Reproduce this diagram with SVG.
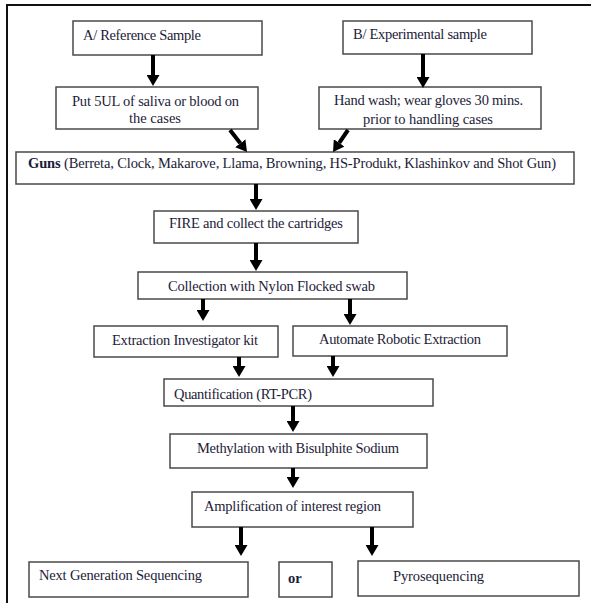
<svg xmlns="http://www.w3.org/2000/svg" width="591" height="603" viewBox="0 0 591 603">
<defs>
<style>
.box{fill:#fff;stroke:#4a4a4a;stroke-width:1.5}
.t{font-family:"Liberation Serif","Times New Roman",serif;font-size:14.5px;fill:#1c1c38}
.b{font-weight:bold}
.ar{stroke:#000;stroke-width:4;fill:none;marker-end:url(#ah)}
</style>
<marker id="ah" markerUnits="userSpaceOnUse" markerWidth="11" markerHeight="13" refX="0" refY="6.5" orient="auto" viewBox="0 0 11 13">
<path d="M0,0 L11,6.5 L0,13 z" fill="#000"/>
</marker>
</defs>
<rect width="591" height="603" fill="#fff"/>
<g id="frame">
<path d="M7,603 L7,5 L591,5" fill="none" stroke="#111" stroke-width="2"/>
</g>
<g id="n-a"><rect class="box" x="73" y="21" width="189" height="34"/><text class="t" x="83" y="40" textLength="118" lengthAdjust="spacing">A/ Reference Sample</text></g>
<g id="n-b"><rect class="box" x="343" y="21" width="189" height="33"/><text class="t" x="353" y="39" textLength="134" lengthAdjust="spacing">B/ Experimental sample</text></g>
<g id="n-put"><rect class="box" x="56" y="87" width="202" height="42"/><text class="t" x="72" y="106" textLength="167" lengthAdjust="spacing">Put 5UL of saliva or blood on</text><text class="t" x="129" y="123" textLength="52" lengthAdjust="spacing">the cases</text></g>
<g id="n-hand"><rect class="box" x="319" y="87" width="222" height="42"/><text class="t" x="334" y="105" textLength="189" lengthAdjust="spacing">Hand wash; wear gloves 30 mins.</text><text class="t" x="363" y="124" textLength="130" lengthAdjust="spacing">prior to handling cases</text></g>
<g id="n-guns"><rect class="box" x="16" y="152" width="558" height="32"/><text class="t" x="28" y="168" textLength="528" lengthAdjust="spacing"><tspan class="b">Guns</tspan> (Berreta, Clock, Makarove, Llama, Browning, HS-Produkt, Klashinkov and Shot Gun)</text></g>
<g id="n-fire"><rect class="box" x="154" y="211" width="204" height="32"/><text class="t" x="169" y="228" textLength="174" lengthAdjust="spacing">FIRE and collect the cartridges</text></g>
<g id="n-coll"><rect class="box" x="138" y="272" width="269" height="27"/><text class="t" x="168" y="291" textLength="207" lengthAdjust="spacing">Collection with Nylon Flocked swab</text></g>
<g id="n-ext"><rect class="box" x="94" y="326" width="184" height="31"/><text class="t" x="112" y="345" textLength="146" lengthAdjust="spacing">Extraction Investigator kit</text></g>
<g id="n-auto"><rect class="box" x="293" y="326" width="214" height="30"/><text class="t" x="319" y="344" textLength="162" lengthAdjust="spacing">Automate Robotic Extraction</text></g>
<g id="n-quant"><rect class="box" x="164" y="379" width="269" height="27"/><text class="t" x="174" y="399" textLength="138" lengthAdjust="spacing">Quantification (RT-PCR)</text></g>
<g id="n-meth"><rect class="box" x="170" y="434" width="257" height="34"/><text class="t" x="197" y="453" textLength="202" lengthAdjust="spacing">Methylation with Bisulphite Sodium</text></g>
<g id="n-amp"><rect class="box" x="192" y="492" width="221" height="35"/><text class="t" x="204" y="511" textLength="177" lengthAdjust="spacing">Amplification of interest region</text></g>
<g id="n-ngs"><rect class="box" x="29" y="562" width="219" height="35"/><text class="t" x="39" y="580" textLength="163" lengthAdjust="spacing">Next Generation Sequencing</text></g>
<g id="n-or"><rect class="box" x="279" y="562" width="53" height="35"/><text class="t b" x="288" y="583">or</text></g>
<g id="n-pyro"><rect class="box" x="358" y="561" width="221" height="35"/><text class="t" x="393" y="581" textLength="91" lengthAdjust="spacing">Pyrosequencing</text></g>
<g id="connectors">
<line class="ar" x1="153" y1="55" x2="153" y2="75"/>
<line class="ar" x1="423" y1="54" x2="423" y2="77"/>
<line class="ar" x1="230" y1="130" x2="240.3" y2="143.3"/>
<line class="ar" x1="348" y1="130" x2="339.2" y2="142.9"/>
<line class="ar" x1="256" y1="184" x2="256" y2="199"/>
<line class="ar" x1="256" y1="243" x2="256" y2="260"/>
<line class="ar" x1="203" y1="299" x2="203" y2="310"/>
<line class="ar" x1="350" y1="299" x2="350" y2="314"/>
<line class="ar" x1="239" y1="357" x2="239" y2="366"/>
<line class="ar" x1="333" y1="356" x2="333" y2="366"/>
<line class="ar" x1="293" y1="406" x2="293" y2="421"/>
<line class="ar" x1="293" y1="468" x2="293" y2="477"/>
<line class="ar" x1="241" y1="527" x2="241" y2="545"/>
<line class="ar" x1="372" y1="527" x2="372" y2="545"/>
</g>
</svg>
